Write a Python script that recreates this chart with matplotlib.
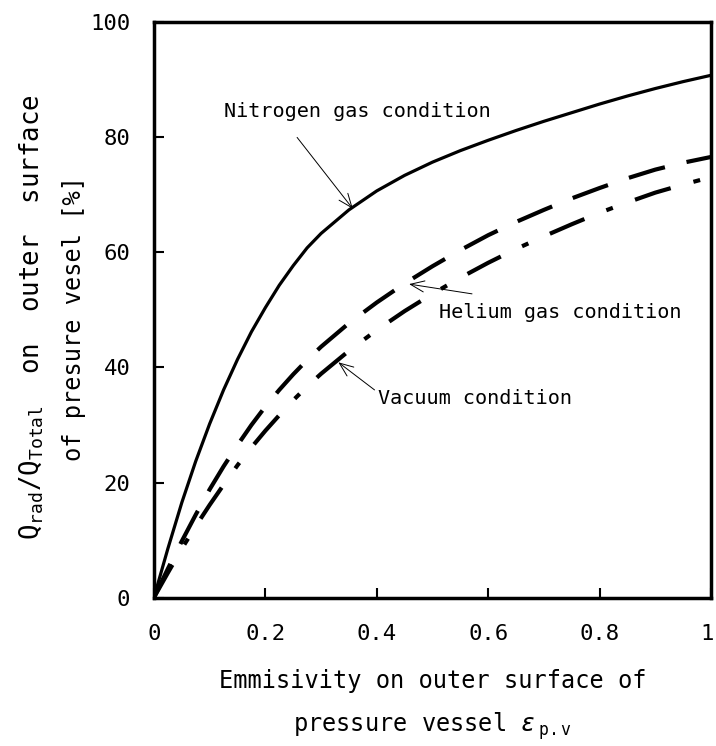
import matplotlib
matplotlib.use("Agg")
import matplotlib.pyplot as plt
from matplotlib.transforms import ScaledTranslation

plt.rcParams["font.family"] = "DejaVu Sans Mono"
plt.rcParams["mathtext.fontset"] = "custom"
plt.rcParams["mathtext.rm"] = "DejaVu Sans Mono"
plt.rcParams["mathtext.it"] = "DejaVu Sans Mono:italic"
plt.rcParams["lines.scale_dashes"] = False

# values
emis = [0, 0.025, 0.05, 0.075, 0.1, 0.125, 0.15, 0.175, 0.2, 0.225, 0.25, 0.275, 0.3,
        0.35, 0.4, 0.45, 0.5, 0.55, 0.6, 0.65, 0.7, 0.75, 0.8, 0.85, 0.9, 0.95, 1.0]
nitrogen = [0, 8.5, 16.5, 23.7, 30.2, 36.1, 41.4, 46.2, 50.4, 54.3, 57.7, 60.8, 63.3,
            67.4, 70.7, 73.4, 75.7, 77.7, 79.5, 81.2, 82.8, 84.3, 85.8, 87.2, 88.5, 89.7, 90.8]
helium = [0, 5.0, 9.8, 14.4, 18.8, 22.8, 26.5, 30.0, 33.2, 36.1, 38.8, 41.3, 43.6,
          47.7, 51.3, 54.6, 57.6, 60.4, 63.0, 65.3, 67.4, 69.4, 71.2, 72.9, 74.4, 75.6, 76.6]
vacuum = [0, 4.3, 8.5, 12.4, 16.1, 19.6, 23.0, 26.1, 29.0, 31.7, 34.3, 36.7, 38.9,
          42.9, 46.5, 49.8, 52.8, 55.6, 58.2, 60.6, 62.8, 64.9, 66.9, 68.7, 70.4, 71.8, 73.1]

xticks = [0, 0.2, 0.4, 0.6, 0.8, 1.0]
xticklabels = ["0", "0.2", "0.4", "0.6", "0.8", "1"]
yticks = [0, 20, 40, 60, 80, 100]

fig = plt.figure(figsize=(7.16, 7.46), dpi=100)
ax = fig.add_axes([0.215, 0.199, 0.778, 0.771])

ax.plot(emis, nitrogen, color="black", lw=2.3)
ax.plot(emis, helium, color="black", lw=3.0, dashes=(27, 16))
ax.plot(emis, vacuum, color="black", lw=3.0, dashes=(27, 17, 5, 17))

ax.set_xlim(0, 1)
ax.set_ylim(0, 100)
ax.set_xticks(xticks)
ax.set_xticklabels(xticklabels)
ax.set_yticks(yticks)
ax.tick_params(direction="in", length=7, width=1.5, labelsize=16, top=False, right=False)
ax.tick_params(axis="x", pad=19)
ax.tick_params(axis="y", pad=17)
for s in ax.spines.values():
    s.set_linewidth(2.5)

# keep the "1" at the right edge inside the picture
last = ax.get_xticklabels()[-1]
last.set_transform(last.get_transform() + ScaledTranslation(-3 / 72, 0, fig.dpi_scale_trans))

# annotations
arrow = dict(arrowstyle="->,head_length=0.5,head_width=0.2", lw=0.7,
             color="black", shrinkA=0, shrinkB=0, mutation_scale=20)
ax.annotate("", xy=(0.357, 67.6), xytext=(0.257, 80.0), arrowprops=arrow)
ax.text(0.126, 84.5, "Nitrogen gas condition", fontsize=14.5, ha="left", va="center")

ax.annotate("", xy=(0.458, 54.5), xytext=(0.571, 52.8), arrowprops=arrow)
ax.text(0.512, 49.6, "Helium gas condition", fontsize=14.5, ha="left", va="center")

ax.annotate("", xy=(0.331, 40.9), xytext=(0.396, 36.1), arrowprops=arrow)
ax.text(0.402, 34.6, "Vacuum condition", fontsize=14.5, ha="left", va="center")

# axis labels
fig.text(0.044, 0.575, r"$\mathrm{Q_{rad}/Q_{Total}}$  on  outer  surface",
         rotation=90, fontsize=18.5, ha="center", va="center")
fig.text(0.103, 0.573, "of presure vesel [%]",
         rotation=90, fontsize=17, ha="center", va="center")
fig.text(0.604, 0.0777, "Emmisivity on outer surface of",
         fontsize=17, ha="center", va="baseline")
fig.text(0.604, 0.0188, r"pressure vessel $\varepsilon_{\ \mathrm{p.v}}$",
         fontsize=17, ha="center", va="baseline")

fig.savefig("out.png", dpi=100)
